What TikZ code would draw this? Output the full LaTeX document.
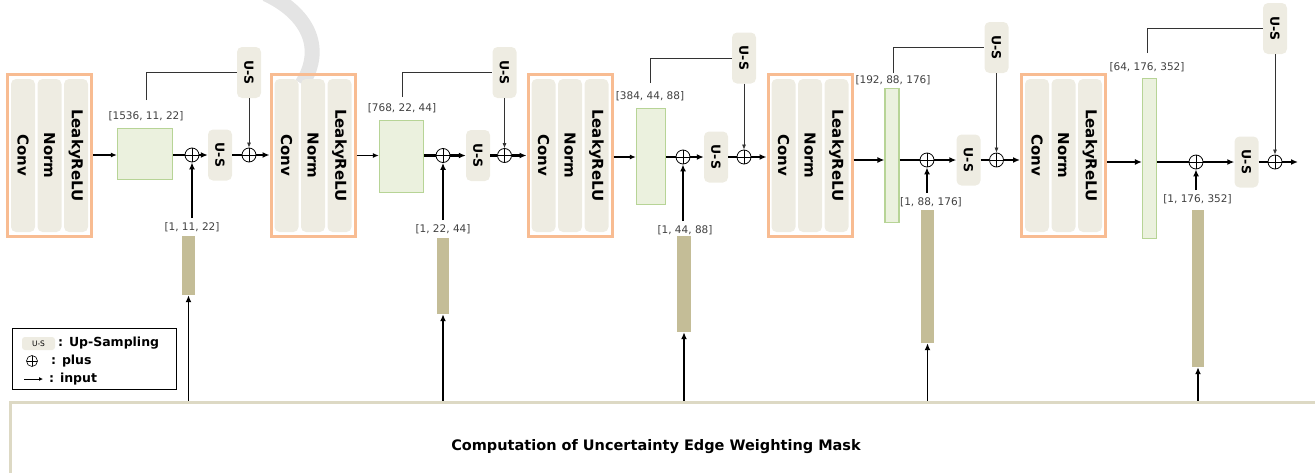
\documentclass[tikz,border=0pt]{standalone}
\usepackage{fontspec}
\setmainfont{DejaVu Sans}
\usetikzlibrary{arrows.meta}

\definecolor{blockorange}{RGB}{248,188,146}
\definecolor{pillgray}{RGB}{238,236,226}
\definecolor{featfill}{RGB}{235,241,222}
\definecolor{featline}{RGB}{183,212,150}
\definecolor{barcolor}{RGB}{196,189,151}
\definecolor{maskline}{RGB}{221,217,196}
\definecolor{markgray}{RGB}{228,228,228}

\begin{document}
\begin{tikzpicture}[
    x=1pt,
    y=-1pt,
    >={Latex[length=7pt,width=6pt]},
    convblock/.style={
        draw=blockorange,
        line width=3pt,
        minimum width=84pt,
        minimum height=162pt
    },
    layer/.style={
        fill=pillgray,
        rounded corners=5pt,
        rotate=-90,
        minimum width=153pt,
        minimum height=24pt,
        inner sep=0pt,
        font=\bfseries\fontsize{15}{17}\selectfont
    },
    usbox/.style={
        fill=pillgray,
        rounded corners=5pt,
        rotate=-90,
        minimum width=51pt,
        minimum height=24pt,
        inner sep=0pt,
        font=\bfseries\fontsize{12.5}{14}\selectfont
    },
    feature/.style={
        draw=featline,
        fill=featfill,
        line width=1.2pt,
        inner sep=0pt
    },
    maskbar/.style={
        fill=barcolor,
        inner sep=0pt
    },
    addnode/.style={
        circle,
        draw,
        line width=0.8pt,
        minimum size=14pt,
        inner sep=0pt,
        path picture={
            \draw[line width=0.8pt]
                (path picture bounding box.north) -- (path picture bounding box.south)
                (path picture bounding box.west) -- (path picture bounding box.east);
        }
    },
    dims/.style={
        font=\fontsize{10.5}{12}\selectfont,
        text=black!75,
        inner sep=1pt
    },
    legtext/.style={
        font=\bfseries\fontsize{12.5}{14}\selectfont,
        inner sep=1pt,
        anchor=west
    },
    thinflow/.style={
        ->,
        line width=1.2pt,
        >={Latex[length=6pt,width=5pt]}
    },
    thickflow/.style={
        line width=2.2pt
    },
    skipline/.style={
        line width=0.7pt,
        draw=black!80
    },
    skiparrow/.style={
        ->,
        line width=0.7pt,
        draw=black!80,
        >={Latex[length=5pt,width=4pt]}
    },
    inflow/.style={
        ->,
        line width=1.8pt
    }
]

\useasboundingbox (0,0) rectangle (1315,472);
\clip (0,0) rectangle (1315,472);

% faint stroke in the background
\draw[markgray, line width=15pt]
    (266,-6) .. controls (305,12) and (326,46) .. (302,84);

% ==================================================
% Conv / Norm / LeakyReLU blocks
% ==================================================

\node[convblock] (b1) at (49.5,155.5) {};
\node[convblock] (b2) at (313,155.5) {};
\node[convblock] (b3) at (570,155.5) {};
\node[convblock] (b4) at (810,155.5) {};
\node[convblock] (b5) at (1063.5,155.5) {};

\foreach \b in {b1,b2,b3,b4,b5} {
    \node[layer] (\b-conv) at ([xshift=-26.5pt]\b.center) {Conv};
    \node[layer] (\b-norm) at (\b.center) {Norm};
    \node[layer] (\b-relu) at ([xshift=26.5pt]\b.center) {LeakyReLU};
}

% ==================================================
% Stage 1
% ==================================================

\node[feature, minimum width=55pt, minimum height=51pt] (f1) at (145,154) {};
\node[dims] (d1) at (146,116) {[1536, 11, 22]};
\node[addnode] (p1a) at (192,155) {};
\node[usbox] (um1) at (220,155) {U-S};
\node[addnode] (p1b) at (249,155) {};
\node[usbox] (ut1) at (249,72.5) {U-S};
\node[maskbar, minimum width=13pt, minimum height=59pt] (m1) at (188.5,265.5) {};
\node[dims] (md1) at (192,227) {[1, 11, 22]};

% ==================================================
% Stage 2
% ==================================================

\node[feature, minimum width=44pt, minimum height=72pt] (f2) at (401.5,156.5) {};
\node[dims] (d2) at (402,108) {[768, 22, 44]};
\node[addnode] (p2a) at (443,155.5) {};
\node[usbox] (um2) at (478,155.5) {U-S};
\node[addnode] (p2b) at (504.5,155.5) {};
\node[usbox] (ut2) at (504.5,72.5) {U-S};
\node[maskbar, minimum width=12pt, minimum height=76pt] (m2) at (443,276) {};
\node[dims] (md2) at (443,229) {[1, 22, 44]};

% ==================================================
% Stage 3
% ==================================================

\node[feature, minimum width=29pt, minimum height=96pt] (f3) at (651,156.5) {};
\node[dims] (d3) at (650,96) {[384, 44, 88]};
\node[addnode] (p3a) at (683,157) {};
\node[usbox] (um3) at (716,157) {U-S};
\node[addnode] (p3b) at (744,157) {};
\node[usbox] (ut3) at (744,58) {U-S};
\node[maskbar, minimum width=14pt, minimum height=96pt] (m3) at (684,284) {};
\node[dims] (md3) at (685,230) {[1, 44, 88]};

% ==================================================
% Stage 4
% ==================================================

\node[feature, minimum width=14pt, minimum height=134pt] (f4) at (892,155.5) {};
\node[dims] (d4) at (893,80) {[192, 88, 176]};
\node[addnode] (p4a) at (927,160) {};
\node[usbox] (um4) at (968.5,160) {U-S};
\node[addnode] (p4b) at (996.5,160) {};
\node[usbox] (ut4) at (996.5,47.5) {U-S};
\node[maskbar, minimum width=13pt, minimum height=133pt] (m4) at (927.5,276.5) {};
\node[dims] (md4) at (931,202) {[1, 88, 176]};

% ==================================================
% Stage 5
% ==================================================

\node[feature, minimum width=14pt, minimum height=160pt] (f5) at (1149.5,158.5) {};
\node[dims] (d5) at (1147,67) {[64, 176, 352]};
\node[addnode] (p5a) at (1196,162) {};
\node[usbox] (um5) at (1246.5,162) {U-S};
\node[addnode] (p5b) at (1275,162) {};
\node[usbox] (ut5) at (1275,28.5) {U-S};
\node[maskbar, minimum width=12pt, minimum height=157pt] (m5) at (1198,288.5) {};
\node[dims] (md5) at (1197.5,199) {[1, 176, 352]};
\coordinate (out) at (1298,162);

% ==================================================
% Mask computation and legend
% ==================================================

\node[draw=maskline, line width=3pt, minimum width=1330pt, minimum height=90pt,
      anchor=north west] (uewm) at (8.5,400.5) {};
\node[font=\bfseries\fontsize{14.5}{17}\selectfont] (uewmtext) at (656,447)
    {Computation of Uncertainty Edge Weighting Mask};

\node[draw, line width=0.9pt, fill=white, minimum width=164pt, minimum height=61pt]
    (legend) at (94.5,359) {};
\node[fill=pillgray, rounded corners=3pt, minimum width=33pt, minimum height=13pt,
      inner sep=0pt, font=\fontsize{7.5}{9}\selectfont] (legus) at (38.5,343.5) {U-S};
\node[legtext] (legustext) at (57,343) {: Up-Sampling};
\node[addnode, minimum size=11pt, line width=0.6pt] (legplus) at (32,361) {};
\node[legtext] (legplustext) at (50,361) {: plus};
\coordinate (legarrowa) at (24,379);
\coordinate (legarrowb) at (43,379);
\draw[->, line width=1pt, >={Latex[length=4pt,width=4pt]}] (legarrowa) -- (legarrowb);
\node[legtext] (leginputtext) at (48,379) {: input};

% ==================================================
% Connections
% ==================================================

% main flow
\draw[thinflow] (b1.east |- p1a) -- (f1.west |- p1a);
\draw[thickflow] (f1.east |- p1a) -- (p1a);
\draw[thickflow, ->] (p1a) -- (um1);
\draw[thickflow] (um1) -- (p1b);
\draw[thickflow, ->] (p1b) -- (b2.west |- p1b);

\draw[thinflow] (b2.east |- p2a) -- (f2.west |- p2a);
\draw[thickflow] (f2.east |- p2a) -- (p2a);
\draw[thickflow, ->] (p2a) -- (um2);
\draw[thickflow] (um2) -- (p2b);
\draw[thickflow, ->] (p2b) -- (b3.west |- p2b);

\draw[thinflow] (b3.east |- p3a) -- (f3.west |- p3a);
\draw[thickflow] (f3.east |- p3a) -- (p3a);
\draw[thickflow, ->] (p3a) -- (um3);
\draw[thickflow] (um3) -- (p3b);
\draw[thickflow, ->] (p3b) -- (b4.west |- p3b);

\draw[thickflow, ->] (b4.east |- p4a) -- (f4.west |- p4a);
\draw[thickflow] (f4.east |- p4a) -- (p4a);
\draw[thickflow, ->] (p4a) -- (um4);
\draw[thickflow] (um4) -- (p4b);
\draw[thickflow, ->] (p4b) -- (b5.west |- p4b);

\draw[thickflow, ->] (b5.east |- p5a) -- (f5.west |- p5a);
\draw[thickflow] (f5.east |- p5a) -- (p5a);
\draw[thickflow, ->] (p5a) -- (um5);
\draw[thickflow] (um5) -- (p5b);
\draw[thickflow, ->] (p5b) -- (out);

% skip connections through the upper U-S boxes
\draw[skipline] ([yshift=10pt]d1.north) |- (ut1);
\draw[skipline] ([yshift=5pt]d2.north) |- (ut2);
\draw[skipline] ([yshift=7pt]d3.north) |- (ut3);
\draw[skipline] ([yshift=1pt]d4.north) |- (ut4);
\draw[skipline] ([yshift=8pt]d5.north) |- (ut5);

\draw[skiparrow] (ut1) -- (p1b);
\draw[skiparrow] (ut2) -- (p2b);
\draw[skiparrow] (ut3) -- (p3b);
\draw[skiparrow] (ut4) -- (p4b);
\draw[skiparrow] (ut5) -- (p5b);

% mask inputs
\draw[thickflow, ->] ([yshift=3pt]md1.north -| p1a) -- (p1a);
\draw[thickflow, ->] ([yshift=3pt]md2.north -| p2a) -- (p2a);
\draw[thickflow, ->] ([yshift=3pt]md3.north -| p3a) -- (p3a);
\draw[thickflow, ->] ([yshift=3pt]md4.north -| p4a) -- (p4a);
\draw[thickflow, ->] ([yshift=3pt]md5.north -| p5a) -- (p5a);

\draw[inflow] (m1 |- uewm.north) -- (m1.south);
\draw[inflow] (m2 |- uewm.north) -- (m2.south);
\draw[inflow] (m3 |- uewm.north) -- (m3.south);
\draw[inflow] (m4 |- uewm.north) -- (m4.south);
\draw[inflow] (m5 |- uewm.north) -- (m5.south);

\end{tikzpicture}
\end{document}
